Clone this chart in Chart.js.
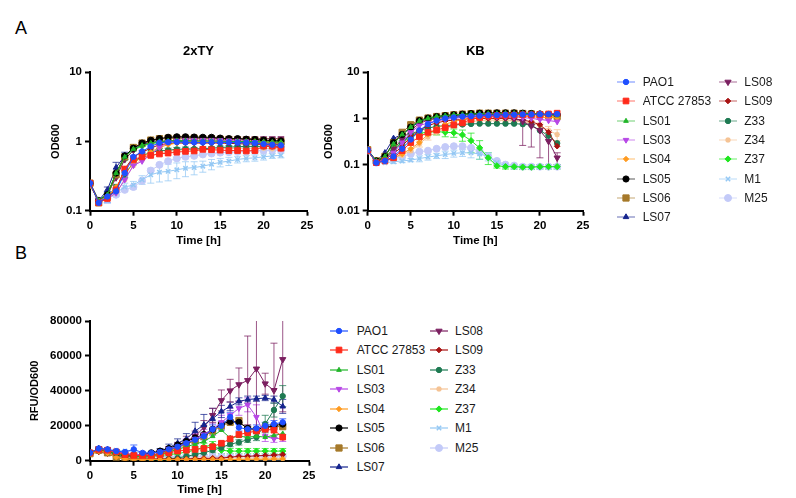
<!DOCTYPE html>
<html>
<head>
<meta charset="utf-8">
<script src="https://cdn.jsdelivr.net/npm/chart.js@4.4.1/dist/chart.umd.min.js"></script>
<style>
  body { margin: 0; background: #fff; width: 796px; height: 498px; position: relative; overflow: hidden;
         font-family: "Liberation Sans", Arial, sans-serif; }
  canvas.chart { position: absolute; }
  .panel { position: absolute; font-size: 18px; color: #000; line-height: 20px; }
  .item { position: absolute; height: 14px; font-size: 12px; line-height: 14px; color: #1a1a1a; white-space: nowrap; }
  .item canvas { position: absolute; left: 0; top: 0; }
  .item span { position: absolute; top: 0; }
</style>
</head>
<body>
<div class="panel" style="left:15px;top:18px;">A</div>
<div class="panel" style="left:15px;top:243px;">B</div>
<canvas class="chart" id="ty-chart" width="320" height="260" style="left:0;top:0;"></canvas>
<canvas class="chart" id="kb-chart" width="310" height="260" style="left:290px;top:0;"></canvas>
<canvas class="chart" id="rfu-chart" width="320" height="208" style="left:0;top:290px;"></canvas>
<div id="legend-top"></div>
<div id="legend-bottom"></div>
<script>
const hours = [0, 1, 2, 3, 4, 5, 6, 7, 8, 9, 10, 11, 12, 13, 14, 15, 16, 17, 18, 19, 20, 21, 22];
const strains = ["PAO1", "ATCC 27853", "LS01", "LS03", "LS04", "LS05", "LS06", "LS07",
                 "LS08", "LS09", "Z33", "Z34", "Z37", "M1", "M25"];

const tyTicks = [0.1, 1, 10];
const kbTicks = [0.01, 0.1, 1, 10];
const rfuTicks = [0, 20000, 40000, 60000, 80000];
const timeTicks = [0, 5, 10, 15, 20, 25];

// OD600 in 2xTY
const ty_PAO1 = [0.25, 0.13, 0.16, 0.19, 0.35, 0.6, 0.72, 0.85, 0.96, 0.98, 0.98, 0.97, 0.97, 0.97, 0.97, 0.97, 0.97, 0.96, 0.96, 0.95, 0.92, 0.9, 0.88];
const ty_ATCC = [0.25, 0.13, 0.15, 0.2, 0.4, 0.55, 0.6, 0.63, 0.66, 0.68, 0.7, 0.72, 0.73, 0.77, 0.76, 0.75, 0.74, 0.74, 0.73, 0.74, 0.86, 0.86, 0.8];
const ty_LS01 = [0.24, 0.14, 0.17, 0.35, 0.6, 0.78, 0.88, 0.95, 1.0, 1.02, 1.03, 1.03, 1.02, 1.02, 1.02, 1.01, 1.0, 1.0, 1.0, 1.0, 0.99, 0.98, 0.98];
const ty_LS03 = [0.24, 0.14, 0.15, 0.18, 0.28, 0.45, 0.52, 0.65, 0.82, 0.98, 1.03, 1.05, 1.05, 1.05, 1.05, 1.04, 1.03, 1.02, 1.0, 0.98, 0.9, 0.85, 0.8];
const ty_LS04 = [0.23, 0.14, 0.16, 0.22, 0.35, 0.48, 0.6, 0.7, 0.82, 0.9, 0.95, 0.98, 1.0, 1.0, 1.0, 1.0, 1.0, 1.0, 1.0, 1.0, 0.98, 0.96, 0.95];
const ty_LS05 = [0.25, 0.14, 0.17, 0.35, 0.62, 0.8, 0.95, 1.04, 1.1, 1.15, 1.17, 1.17, 1.16, 1.15, 1.15, 1.12, 1.1, 1.1, 1.08, 1.07, 1.05, 1.03, 1.02];
const ty_LS06 = [0.25, 0.13, 0.16, 0.33, 0.6, 0.82, 0.95, 1.05, 1.1, 1.12, 1.12, 1.12, 1.12, 1.1, 1.1, 1.08, 1.07, 1.06, 1.05, 1.04, 1.02, 1.0, 1.0];
const ty_LS07 = [0.25, 0.14, 0.2, 0.42, 0.62, 0.78, 0.9, 0.98, 1.0, 1.02, 1.02, 1.02, 1.01, 1.0, 1.0, 1.0, 0.99, 0.98, 0.97, 0.96, 0.95, 0.95, 0.95];
const ty_LS08 = [0.25, 0.14, 0.17, 0.3, 0.55, 0.75, 0.92, 1.02, 1.08, 1.12, 1.13, 1.13, 1.12, 1.12, 1.11, 1.1, 1.1, 1.1, 1.1, 1.1, 1.1, 1.1, 1.1];
const ty_LS09 = [0.25, 0.13, 0.16, 0.2, 0.4, 0.6, 0.7, 0.8, 0.9, 0.93, 0.95, 0.95, 0.95, 0.95, 0.95, 0.95, 0.94, 0.93, 0.92, 0.92, 0.9, 0.9, 0.9];
const ty_Z33 = [0.24, 0.14, 0.16, 0.22, 0.33, 0.5, 0.62, 0.7, 0.73, 0.75, 0.77, 0.78, 0.78, 0.79, 0.8, 0.82, 0.83, 0.84, 0.85, 0.85, 0.85, 0.85, 0.85];
const ty_Z34 = [0.23, 0.14, 0.15, 0.18, 0.28, 0.45, 0.55, 0.62, 0.68, 0.72, 0.74, 0.76, 0.77, 0.78, 0.78, 0.79, 0.79, 0.8, 0.8, 0.8, 0.8, 0.79, 0.78];
const ty_Z37 = [0.24, 0.14, 0.18, 0.33, 0.55, 0.75, 0.86, 0.93, 0.97, 1.0, 1.0, 1.0, 1.0, 1.0, 1.0, 1.0, 1.0, 0.99, 0.98, 0.98, 0.97, 0.96, 0.95];
const ty_M1 = [0.25, 0.13, 0.15, 0.18, 0.22, 0.235, 0.28, 0.33, 0.36, 0.37, 0.39, 0.41, 0.42, 0.44, 0.47, 0.5, 0.52, 0.55, 0.57, 0.58, 0.6, 0.62, 0.63];
const ty_M25 = [0.24, 0.14, 0.15, 0.17, 0.2, 0.22, 0.27, 0.38, 0.46, 0.52, 0.57, 0.6, 0.62, 0.65, 0.67, 0.69, 0.7, 0.71, 0.72, 0.73, 0.74, 0.75, 0.75];
const tyErr_PAO1 = [0, 0, 0.03, 0.02, 0.03, 0.03, 0.02, 0.02, 0.02, 0.02, 0.02, 0.02, 0.02, 0.02, 0.02, 0.02, 0.02, 0.02, 0.02, 0.02, 0.03, 0.03, 0.04];
const tyErr_LS07 = [0, 0.01, 0.02, 0.08, 0.08, 0.05, 0.04, 0.03, 0.02, 0.02, 0.02, 0.02, 0.02, 0.02, 0.02, 0.02, 0.02, 0.02, 0.02, 0.02, 0.02, 0.02, 0.02];
const tyErr_M1 = [0.01, 0.01, 0.02, 0.02, 0.03, 0.03, 0.04, 0.08, 0.1, 0.1, 0.1, 0.1, 0.09, 0.08, 0.08, 0.07, 0.07, 0.06, 0.06, 0.06, 0.06, 0.05, 0.05];
const tyErr_Z33 = [0, 0, 0.01, 0.02, 0.03, 0.04, 0.05, 0.06, 0.06, 0.05, 0.05, 0.05, 0.04, 0.04, 0.04, 0.04, 0.04, 0.04, 0.04, 0.04, 0.04, 0.04, 0.04];

// OD600 in KB
const kb_PAO1 = [0.21, 0.11, 0.12, 0.15, 0.22, 0.35, 0.55, 0.75, 0.9, 1.0, 1.05, 1.1, 1.12, 1.15, 1.17, 1.18, 1.2, 1.2, 1.22, 1.22, 1.23, 1.23, 1.25];
const kb_ATCC = [0.2, 0.11, 0.12, 0.14, 0.2, 0.3, 0.4, 0.5, 0.56, 0.63, 0.72, 0.8, 0.95, 1.05, 1.12, 1.15, 1.17, 1.18, 1.2, 1.2, 1.22, 1.25, 1.3];
const kb_LS01 = [0.2, 0.12, 0.15, 0.28, 0.45, 0.65, 0.88, 1.0, 1.1, 1.15, 1.2, 1.22, 1.25, 1.27, 1.28, 1.28, 1.3, 1.3, 1.3, 1.28, 1.25, 1.2, 1.15];
const kb_LS03 = [0.2, 0.11, 0.13, 0.18, 0.3, 0.5, 0.7, 0.8, 0.88, 0.95, 1.0, 1.05, 1.08, 1.1, 1.1, 1.1, 1.1, 1.08, 1.05, 1.0, 0.95, 0.9, 0.85];
const kb_LS04 = [0.2, 0.11, 0.12, 0.14, 0.17, 0.22, 0.3, 0.45, 0.6, 0.75, 0.85, 0.95, 1.0, 1.05, 1.1, 1.12, 1.12, 1.12, 1.1, 1.1, 1.05, 1.05, 1.05];
const kb_LS05 = [0.2, 0.12, 0.15, 0.3, 0.45, 0.65, 0.9, 1.02, 1.1, 1.15, 1.2, 1.24, 1.27, 1.3, 1.3, 1.32, 1.32, 1.32, 1.3, 1.28, 1.25, 1.22, 1.2];
const kb_LS06 = [0.21, 0.12, 0.15, 0.3, 0.5, 0.73, 0.92, 1.02, 1.1, 1.15, 1.2, 1.24, 1.27, 1.3, 1.3, 1.3, 1.3, 1.3, 1.28, 1.25, 1.2, 1.15, 1.1];
const kb_LS07 = [0.21, 0.12, 0.18, 0.37, 0.45, 0.62, 0.85, 0.98, 1.05, 1.1, 1.15, 1.18, 1.2, 1.22, 1.22, 1.22, 1.22, 1.22, 1.2, 1.2, 1.2, 1.2, 1.2];
const kb_LS08 = [0.2, 0.12, 0.14, 0.22, 0.35, 0.55, 0.78, 0.92, 1.0, 1.05, 1.08, 1.1, 1.1, 1.1, 1.1, 1.08, 1.05, 1.0, 0.86, 0.69, 0.55, 0.32, 0.14];
const kb_LS09 = [0.2, 0.11, 0.13, 0.17, 0.25, 0.4, 0.55, 0.7, 0.8, 0.88, 0.92, 0.95, 1.0, 1.0, 1.0, 1.0, 1.0, 0.98, 0.92, 0.85, 0.73, 0.5, 0.25];
const kb_Z33 = [0.2, 0.11, 0.13, 0.2, 0.3, 0.45, 0.55, 0.62, 0.67, 0.7, 0.72, 0.74, 0.76, 0.77, 0.77, 0.77, 0.77, 0.77, 0.75, 0.72, 0.55, 0.42, 0.29];
const kb_Z34 = [0.2, 0.11, 0.12, 0.14, 0.16, 0.2, 0.28, 0.4, 0.5, 0.6, 0.7, 0.78, 0.85, 0.9, 0.92, 0.92, 0.9, 0.88, 0.85, 0.8, 0.7, 0.55, 0.45];
const kb_Z37 = [0.2, 0.12, 0.14, 0.22, 0.3, 0.4, 0.48, 0.5, 0.52, 0.5, 0.49, 0.44, 0.33, 0.23, 0.14, 0.094, 0.09, 0.09, 0.088, 0.088, 0.09, 0.09, 0.09];
const kb_M1 = [0.2, 0.11, 0.11, 0.115, 0.12, 0.125, 0.135, 0.145, 0.155, 0.165, 0.175, 0.18, 0.18, 0.17, 0.15, 0.11, 0.095, 0.09, 0.09, 0.09, 0.09, 0.09, 0.09];
const kb_M25 = [0.2, 0.11, 0.12, 0.13, 0.15, 0.17, 0.19, 0.2, 0.22, 0.24, 0.25, 0.25, 0.23, 0.19, 0.15, 0.12, 0.1, 0.095, 0.09, 0.09, 0.09, 0.09, 0.09];
const kbErr_Z37 = [0, 0, 0, 0.02, 0.03, 0.04, 0.05, 0.06, 0.08, 0.1, 0.1, 0.12, 0.15, 0.1, 0.04, 0.01, 0.01, 0.01, 0.01, 0.01, 0.01, 0.01, 0.01];
const kbErr_LS08 = [0, 0, 0, 0.02, 0.03, 0.04, 0.04, 0.04, 0.04, 0.04, 0.04, 0.04, 0.04, 0.04, 0.04, 0.05, 0.06, 0.1, 0.6, 0.45, 0.41, 0.23, 0.04];
const kbErr_Z34 = [0, 0, 0, 0.01, 0.02, 0.03, 0.04, 0.06, 0.06, 0.06, 0.06, 0.06, 0.06, 0.06, 0.06, 0.06, 0.06, 0.06, 0.06, 0.08, 0.1, 0.12, 0.12];
const kbErr_M1 = [0, 0, 0, 0.01, 0.01, 0.01, 0.02, 0.02, 0.02, 0.03, 0.03, 0.03, 0.04, 0.04, 0.03, 0.01, 0.01, 0.01, 0.01, 0.01, 0.01, 0.01, 0.01];

// RFU/OD600 (KB)
const rfu_PAO1 = [4500, 7000, 6500, 5500, 5000, 6500, 4500, 4500, 5000, 6500, 8000, 10000, 12000, 14000, 18000, 20000, 25000, 19000, 18000, 18500, 20000, 21000, 22000];
const rfu_ATCC = [4500, 6500, 6000, 5000, 3500, 3000, 3000, 3000, 3500, 4500, 5500, 6000, 6500, 7000, 8000, 10000, 12500, 15000, 16000, 17000, 18000, 17500, 13500];
const rfu_LS01 = [4500, 6500, 5500, 4000, 3000, 2500, 2500, 3000, 3500, 5000, 6500, 8000, 9500, 11000, 14000, 17500, 13000, 14000, 13500, 14000, 13500, 14500, 15500];
const rfu_LS03 = [4500, 6500, 6000, 5000, 4000, 3500, 3500, 4000, 5000, 6500, 8000, 10000, 12500, 15000, 18000, 22000, 26000, 30000, 32000, 25000, 14000, 12500, 13000];
const rfu_LS04 = [4000, 5500, 4500, 2000, 1000, 800, 700, 700, 700, 700, 700, 700, 700, 700, 700, 700, 700, 700, 800, 800, 800, 900, 900];
const rfu_LS05 = [4500, 6500, 5500, 4000, 3000, 3000, 3500, 4500, 5500, 7000, 9000, 11000, 13000, 15000, 18000, 21000, 22500, 22000, 18500, 18000, 19000, 20000, 21000];
const rfu_LS06 = [4000, 6000, 4500, 2000, 1000, 1000, 1500, 2500, 4000, 5500, 7500, 9500, 11500, 14000, 17000, 20000, 22000, 23000, 18000, 17500, 19000, 19500, 19500];
const rfu_LS07 = [4500, 7000, 6500, 5000, 4000, 3500, 3500, 4000, 5500, 7500, 10000, 12500, 17000, 20500, 24000, 28200, 31100, 34000, 35000, 35500, 35900, 35000, 31100];
const rfu_LS08 = [4500, 6500, 6000, 4000, 2500, 2000, 2500, 3000, 4500, 6000, 8000, 11000, 14000, 19000, 26000, 34500, 40100, 43600, 46000, 52600, 44100, 40300, 58000];
const rfu_LS09 = [4000, 5000, 4000, 2000, 1000, 1000, 1000, 1000, 1000, 1000, 1000, 1000, 1200, 1300, 1400, 1500, 2000, 2500, 2500, 2800, 3000, 3200, 3500];
const rfu_Z33 = [4000, 5500, 4500, 3000, 1500, 1000, 800, 800, 800, 1000, 1500, 2500, 3500, 4500, 6000, 7500, 9500, 10500, 12000, 13500, 21000, 29000, 37000];
const rfu_Z34 = [4000, 5500, 4500, 3000, 2000, 1500, 1500, 1500, 1500, 1500, 1500, 1500, 1500, 1500, 1500, 1500, 1500, 1500, 1500, 1500, 1500, 1500, 1500];
const rfu_Z37 = [4500, 6000, 5000, 3500, 2500, 2000, 2000, 2500, 3000, 3500, 4000, 5000, 6000, 8000, 9000, 6000, 5500, 5500, 5500, 5500, 5500, 5500, 5500];
const rfu_M1 = [5000, 6500, 6000, 6000, 5500, 5500, 4000, 3000, 2500, 2000, 1500, 1200, 1000, 1000, 800, 800, 700, 700, 600, 600, 500, 500, 500];
const rfu_M25 = [4500, 6000, 5500, 4500, 3500, 3000, 2500, 2500, 2500, 2500, 2500, 2500, 2500, 2500, 2500, 2500, 2500, 2500, 2500, 2500, 2500, 2500, 2500];
const rfuErr_PAO1 = [800, 800, 800, 800, 800, 2500, 800, 800, 1000, 1500, 2000, 2000, 2000, 2000, 2500, 2500, 2500, 2000, 2000, 2000, 2000, 2000, 2000];
const rfuErr_LS03 = [500, 500, 500, 500, 500, 500, 500, 500, 1000, 1500, 2000, 2500, 3000, 3000, 3500, 4000, 4000, 4000, 4000, 7000, 3000, 2000, 2000];
const rfuErr_LS07 = [800, 800, 800, 800, 800, 800, 800, 1000, 1500, 2000, 2500, 3000, 5000, 6000, 6000, 3500, 2500, 2000, 2000, 1500, 1500, 2000, 4000];
const rfuErr_LS08 = [500, 500, 500, 500, 500, 500, 500, 1000, 1500, 2000, 2500, 3000, 3000, 4000, 4000, 6000, 6500, 9500, 25400, 35000, 6000, 27000, 30000];
const rfuErr_Z33 = [300, 300, 300, 300, 300, 300, 300, 300, 300, 500, 500, 800, 1000, 1000, 1500, 1500, 1500, 1500, 1500, 2000, 5000, 4000, 6000];
const rfuErr_Z37 = [300, 300, 300, 300, 300, 300, 300, 500, 500, 800, 1000, 1500, 2000, 2000, 2000, 2000, 1500, 1500, 1500, 1500, 1500, 1500, 1500];

const tySeries = [ty_PAO1, ty_ATCC, ty_LS01, ty_LS03, ty_LS04, ty_LS05, ty_LS06, ty_LS07, ty_LS08, ty_LS09, ty_Z33, ty_Z34, ty_Z37, ty_M1, ty_M25];
const kbSeries = [kb_PAO1, kb_ATCC, kb_LS01, kb_LS03, kb_LS04, kb_LS05, kb_LS06, kb_LS07, kb_LS08, kb_LS09, kb_Z33, kb_Z34, kb_Z37, kb_M1, kb_M25];
const rfuSeries = [rfu_PAO1, rfu_ATCC, rfu_LS01, rfu_LS03, rfu_LS04, rfu_LS05, rfu_LS06, rfu_LS07, rfu_LS08, rfu_LS09, rfu_Z33, rfu_Z34, rfu_Z37, rfu_M1, rfu_M25];
const tyErrors = { PAO1: tyErr_PAO1, LS07: tyErr_LS07, Z33: tyErr_Z33, M1: tyErr_M1 };
const kbErrors = { LS08: kbErr_LS08, Z34: kbErr_Z34, Z37: kbErr_Z37, M1: kbErr_M1 };
const rfuErrors = { PAO1: rfuErr_PAO1, LS03: rfuErr_LS03, LS07: rfuErr_LS07, LS08: rfuErr_LS08, Z33: rfuErr_Z33, Z37: rfuErr_Z37 };

// look of each strain
const COLORS = ["#1f4fff", "#ff2a1a", "#22b52a", "#b747e6", "#ff9a1f", "#000000", "#a6792a", "#15248e",
                "#7b1f60", "#a81212", "#1e7a52", "#f5c394", "#1fe61f", "#94c8f4", "#c3caf8"];
const MARKERS = ["circle", "rect", "triangle", "triangle", "rectRot", "circle", "rect", "triangle",
                 "triangle", "rectRot", "circle", "star", "rectRot", "crossRot", "circle"];
const ROTATION = [0, 0, 0, 180, 0, 0, 0, 0, 180, 0, 0, 0, 0, 0, 0];
const RADIUS = [2.7, 4, 2.7, 3.2, 2.7, 3.1, 4.4, 3.2, 3.6, 2.8, 2.7, 2.8, 3.1, 3.1, 3.5];

const FONT = '"Liberation Sans", Arial, sans-serif';

function keyOf(name) {
  return name === "ATCC 27853" ? "ATCC" : name;
}

function withAlpha(hex, a) {
  const n = parseInt(hex.slice(1), 16);
  return `rgba(${(n >> 16) & 255},${(n >> 8) & 255},${n & 255},${a})`;
}

const errorBars = {
  id: "errorBars",
  beforeDatasetsDraw(chart) {
    const { ctx, chartArea, scales } = chart;
    ctx.save();
    ctx.beginPath();
    ctx.rect(chartArea.left, chartArea.top, chartArea.right - chartArea.left, chartArea.bottom - chartArea.top + 2);
    ctx.clip();
    ctx.lineWidth = 1;
    for (const ds of chart.data.datasets) {
      if (!ds.errors) continue;
      ctx.strokeStyle = withAlpha(ds.baseColor, 0.75);
      ds.data.forEach((p, j) => {
        const e = ds.errors[j];
        if (!e) return;
        const x = scales.x.getPixelForValue(p.x);
        const lo = Math.max(p.y - e, scales.y.min);
        const yHi = scales.y.getPixelForValue(p.y + e);
        const yLo = scales.y.getPixelForValue(lo);
        ctx.beginPath();
        ctx.moveTo(x, yHi);
        ctx.lineTo(x, yLo);
        ctx.moveTo(x - 3.5, yHi);
        ctx.lineTo(x + 3.5, yHi);
        ctx.moveTo(x - 3.5, yLo);
        ctx.lineTo(x + 3.5, yLo);
        ctx.stroke();
      });
    }
    ctx.restore();
  },
};

function makeDatasets(series, errors) {
  return series.map((vals, i) => ({
    label: strains[i],
    data: hours.map((h, j) => ({ x: h, y: vals[j] })),
    errors: errors[keyOf(strains[i])] || null,
    baseColor: COLORS[i],
    borderColor: COLORS[i],
    backgroundColor: COLORS[i],
    borderWidth: 1,
    pointStyle: MARKERS[i],
    pointRotation: ROTATION[i],
    pointRadius: RADIUS[i],
    pointBorderWidth: MARKERS[i] === "crossRot" || MARKERS[i] === "star" ? 1.5 : 1,
    pointBorderColor: COLORS[i],
    pointBackgroundColor: COLORS[i],
    tension: 0,
    order: i,
  }));
}

function axisBase() {
  return {
    border: { display: true, color: "#000", width: 2 },
    grid: { display: true, drawOnChartArea: false, drawTicks: true, tickLength: 5, tickWidth: 2, tickColor: "#000" },
    ticks: { color: "#000", padding: 3, font: { family: FONT, size: 11.5, weight: "bold" } },
  };
}

function timeAxis(height, titlePadBottom) {
  const a = axisBase();
  return {
    ...a,
    type: "linear",
    min: 0,
    max: 25,
    ticks: { ...a.ticks, stepSize: 5, maxRotation: 0 },
    afterBuildTicks: (s) => { s.ticks = timeTicks.map((v) => ({ value: v })); },
    afterFit: (s) => { s.height = height; },
    title: { display: true, text: "Time [h]", color: "#000", padding: { top: 0, bottom: titlePadBottom },
             font: { family: FONT, size: 11.5, weight: "bold" } },
  };
}

function valueAxis(opts) {
  const a = axisBase();
  return {
    ...a,
    type: opts.type,
    min: opts.ticks[0],
    max: opts.ticks[opts.ticks.length - 1],
    ticks: { ...a.ticks, callback: (v) => String(v) },
    afterBuildTicks: (s) => { s.ticks = opts.ticks.map((v) => ({ value: v })); },
    afterFit: (s) => { s.width = opts.width; },
    title: { display: true, text: opts.title, color: "#000", padding: { top: opts.titleOffset, bottom: 0 },
             font: { family: FONT, size: 11, weight: "bold" } },
  };
}

function makeChart(id, series, errors, cfg) {
  return new Chart(document.getElementById(id), {
    type: "line",
    data: { datasets: makeDatasets(series, errors) },
    options: {
      responsive: false,
      animation: false,
      devicePixelRatio: 1,
      layout: { padding: cfg.padding },
      plugins: {
        legend: { display: false },
        tooltip: { enabled: false },
        title: cfg.title
          ? { display: true, text: cfg.title, fullSize: false, color: "#000",
              font: { family: FONT, size: 13, weight: "bold" }, padding: { top: 44, bottom: 12.7 } }
          : { display: false },
      },
      scales: {
        x: timeAxis(cfg.xHeight, cfg.xTitlePad),
        y: valueAxis(cfg.y),
      },
    },
    plugins: [errorBars],
  });
}

makeChart("ty-chart", tySeries, tyErrors, {
  title: "2xTY",
  padding: { left: 0, right: 13, top: 0, bottom: 0 },
  xHeight: 49.3,
  xTitlePad: 12.4,
  y: { type: "logarithmic", ticks: tyTicks, width: 90, title: "OD600", titleOffset: 49.5 },
});

makeChart("kb-chart", kbSeries, kbErrors, {
  title: "KB",
  padding: { left: 0, right: 17, top: 0, bottom: 0 },
  xHeight: 49.3,
  xTitlePad: 12.4,
  y: { type: "logarithmic", ticks: kbTicks, width: 77.7, title: "OD600", titleOffset: 32.4 },
});

makeChart("rfu-chart", rfuSeries, rfuErrors, {
  title: null,
  padding: { left: 0, right: 11, top: 31, bottom: 0 },
  xHeight: 37.3,
  xTitlePad: 1.4,
  y: { type: "linear", ticks: rfuTicks, width: 90, title: "RFU/OD600", titleOffset: 28.4 },
});

function drawMarker(ctx, i, x, y) {
  ctx.fillStyle = COLORS[i];
  ctx.strokeStyle = COLORS[i];
  ctx.lineWidth = MARKERS[i] === "crossRot" || MARKERS[i] === "star" ? 1.5 : 1;
  Chart.helpers.drawPoint(ctx, {
    pointStyle: MARKERS[i],
    rotation: ROTATION[i],
    radius: RADIUS[i],
    borderWidth: ctx.lineWidth,
  }, x, y);
}

function buildLegend(hostId, spec) {
  const host = document.getElementById(hostId);
  strains.forEach((name, i) => {
    const col = i < 8 ? 0 : 1;
    const row = i < 8 ? i : i - 8;
    const mx = spec.markerX[col];
    const item = document.createElement("div");
    item.className = "item";
    item.style.left = (mx - 10) + "px";
    item.style.top = (spec.y0 + row * spec.step - 7) + "px";
    const c = document.createElement("canvas");
    c.width = 20;
    c.height = 14;
    const ctx = c.getContext("2d");
    ctx.strokeStyle = withAlpha(COLORS[i], spec.lineAlpha);
    ctx.lineWidth = 1.2;
    ctx.beginPath();
    ctx.moveTo(1, 7);
    ctx.lineTo(19, 7);
    ctx.stroke();
    drawMarker(ctx, i, 10, 7);
    item.appendChild(c);
    const span = document.createElement("span");
    span.textContent = name;
    span.style.left = (spec.textX[col] - (mx - 10)) + "px";
    item.appendChild(span);
    host.appendChild(item);
  });
}

buildLegend("legend-top", { markerX: [626, 727.7], textX: [642.7, 744.3], y0: 82, step: 19.3, lineAlpha: 0.55 });
buildLegend("legend-bottom", { markerX: [339, 439], textX: [356.7, 455], y0: 330.7, step: 19.5, lineAlpha: 1 });
</script>
</body>
</html>
